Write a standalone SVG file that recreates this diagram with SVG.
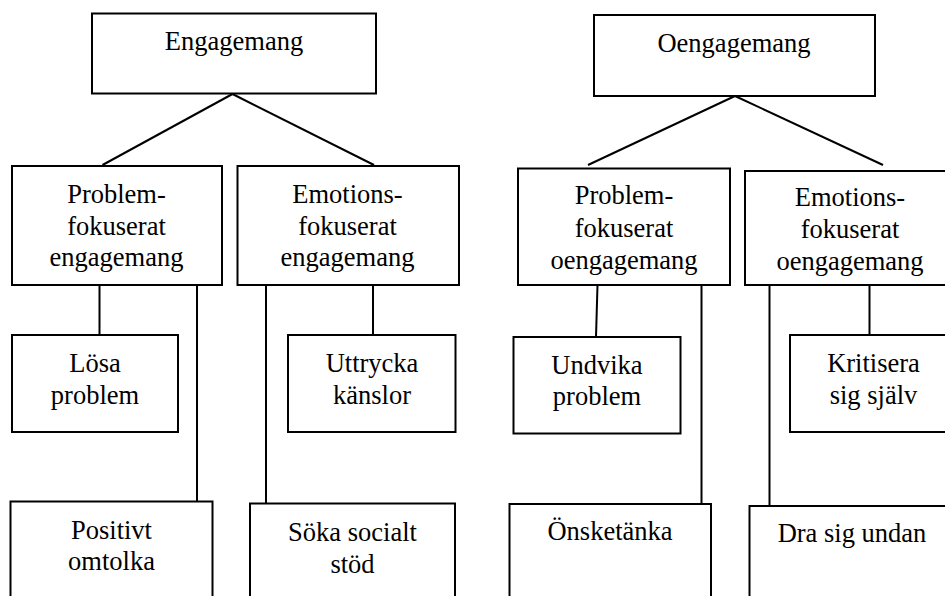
<svg xmlns="http://www.w3.org/2000/svg" width="945" height="596" viewBox="0 0 945 596">
<style>
rect{fill:#fff;stroke:#000;stroke-width:2}
line{stroke:#000;stroke-width:2}
text{font-family:'Liberation Serif','Times New Roman',serif;font-size:26.5px;fill:#000;text-anchor:middle}
</style>
<rect x="0" y="0" width="945" height="596" style="stroke:none"/>
<g id="connectors">
<line x1="232.5" y1="94" x2="102.5" y2="165"/>
<line x1="232.5" y1="94" x2="374" y2="165"/>
<line x1="735" y1="96" x2="588" y2="165"/>
<line x1="735" y1="96" x2="883" y2="165"/>
<line x1="99.5" y1="285" x2="99.5" y2="335"/>
<line x1="197" y1="285" x2="197" y2="501"/>
<line x1="266" y1="285" x2="266" y2="503"/>
<line x1="373" y1="285" x2="373" y2="335"/>
<line x1="597.5" y1="285" x2="596" y2="337"/>
<line x1="701.5" y1="285" x2="701.5" y2="504"/>
<line x1="769.5" y1="285" x2="769.5" y2="506"/>
<line x1="869.5" y1="285" x2="869.5" y2="335"/>
</g>
<g id="engagemang">
<rect x="92" y="13.5" width="284" height="80"/>
<text x="234" y="50">Engagemang</text>
</g>
<g id="oengagemang">
<rect x="594" y="15" width="281" height="81"/>
<text x="734" y="52">Oengagemang</text>
</g>
<g id="pf-eng">
<rect x="12" y="166" width="210" height="119"/>
<text x="116.5" y="203">Problem-</text>
<text x="116.5" y="234.5">fokuserat</text>
<text x="116.5" y="266">engagemang</text>
</g>
<g id="ef-eng">
<rect x="237.5" y="166" width="221.5" height="119"/>
<text x="347.5" y="203">Emotions-</text>
<text x="347.5" y="234.5">fokuserat</text>
<text x="347.5" y="266">engagemang</text>
</g>
<g id="pf-oeng">
<rect x="518" y="168.5" width="212" height="116.5"/>
<text x="624" y="203.5">Problem-</text>
<text x="624" y="236.5">fokuserat</text>
<text x="624" y="268.5">oengagemang</text>
</g>
<g id="ef-oeng">
<rect x="745" y="171" width="215" height="114"/>
<text x="850" y="206">Emotions-</text>
<text x="850" y="237.5">fokuserat</text>
<text x="850" y="269.5">oengagemang</text>
</g>
<g id="losa">
<rect x="12" y="335" width="166" height="97"/>
<text x="95" y="372">Lösa</text>
<text x="95" y="404">problem</text>
</g>
<g id="positivt">
<rect x="10.5" y="501.5" width="202" height="110"/>
<text x="111.5" y="538.5">Positivt</text>
<text x="111.5" y="570">omtolka</text>
</g>
<g id="uttrycka">
<rect x="288" y="335" width="167.5" height="97"/>
<text x="372" y="372">Uttrycka</text>
<text x="372" y="404">känslor</text>
</g>
<g id="soka">
<rect x="250" y="503.5" width="205" height="110"/>
<text x="352.5" y="541">Söka socialt</text>
<text x="352.5" y="573">stöd</text>
</g>
<g id="undvika">
<rect x="513.5" y="337" width="167" height="96.5"/>
<text x="597" y="373.5">Undvika</text>
<text x="597" y="405">problem</text>
</g>
<g id="onsketanka">
<rect x="509.5" y="504" width="201.5" height="110"/>
<text x="610" y="540">Önsketänka</text>
</g>
<g id="kritisera">
<rect x="790" y="335" width="170" height="97"/>
<text x="873.5" y="372">Kritisera</text>
<text x="873.5" y="404">sig själv</text>
</g>
<g id="dra">
<rect x="749.5" y="506" width="210" height="110"/>
<text x="852" y="542">Dra sig undan</text>
</g>
</svg>
